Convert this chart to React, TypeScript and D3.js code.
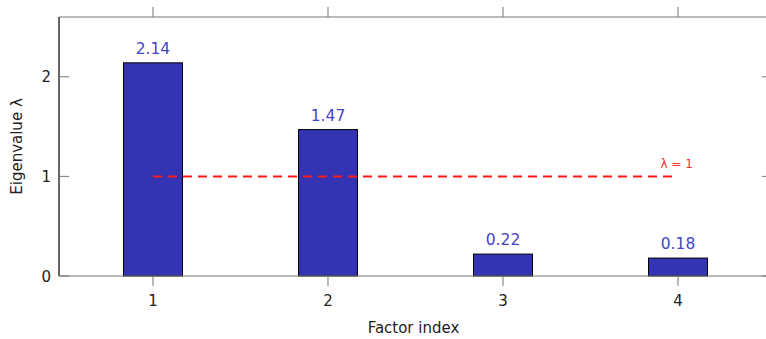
import React from 'react';
import * as d3 from 'd3';

const factors = [1, 2, 3, 4];
const eigenvalues = [2.14, 1.47, 0.22, 0.18];
const yTicks = [0, 1, 2];
const threshold = 1;
const thresholdSpan = [1, 3.97];

const W = 766;
const H = 339;
const left = 59, top = 17, bottom = 276, right = 772;

const x = d3.scaleLinear().domain([0.463, 4.537]).range([left, right]);
const y = d3.scaleLinear().domain([0, 2.6]).range([bottom, top]);
const barW = x(1.337) - x(1);
const font = "'DejaVu Sans', sans-serif";
const axisGray = '#777';

export default function App() {
  return (
    <svg width={W} height={H} style={{ position: 'absolute', left: 0, top: 0 }} fontFamily={font}>
      <rect x={0} y={0} width={W} height={H} fill="#fff" />
      {/* bars */}
      {eigenvalues.map((v, i) => (
        <g key={i}>
          <rect x={x(factors[i]) - barW / 2} y={y(v)} width={barW} height={y(0) - y(v)}
            fill="#3333b3" stroke="#000" strokeWidth={1} />
          <text x={x(factors[i])} y={y(v) - 9} textAnchor="middle" fontSize={15.5} fill="#4444c4">
            {v.toFixed(2)}
          </text>
        </g>
      ))}
      {/* threshold line */}
      <line x1={x(thresholdSpan[0])} x2={x(thresholdSpan[1])} y1={y(threshold)} y2={y(threshold)}
        stroke="#ff1a1a" strokeWidth={2} strokeDasharray="9,6" />
      <text x={x(thresholdSpan[1]) + 4} y={y(threshold) - 8} textAnchor="middle" fontSize={12} fill="#ff2a2a">
        λ = 1
      </text>
      {/* axis box */}
      <line x1={left} x2={right} y1={top} y2={top} stroke={axisGray} strokeWidth={1.2} />
      <line x1={left} x2={right} y1={bottom} y2={bottom} stroke={axisGray} strokeWidth={1.2} />
      <line x1={left} x2={left} y1={top} y2={bottom} stroke="#000" strokeWidth={1.2} />
      <line x1={right} x2={right} y1={top} y2={bottom} stroke="#000" strokeWidth={1.2} />
      {/* x ticks */}
      {factors.map(f => (
        <g key={f}>
          <line x1={x(f)} x2={x(f)} y1={bottom} y2={bottom + 10} stroke={axisGray} />
          <line x1={x(f)} x2={x(f)} y1={top - 10} y2={top} stroke={axisGray} />
          <text x={x(f)} y={bottom + 30} textAnchor="middle" fontSize={15} fill="#222">{f}</text>
        </g>
      ))}
      {/* y ticks */}
      {yTicks.map(t => (
        <g key={t}>
          <line x1={left} x2={left + 10} y1={y(t)} y2={y(t)} stroke={axisGray} />
          <line x1={right - 10} x2={right} y1={y(t)} y2={y(t)} stroke={axisGray} />
          <text x={left - 8} y={y(t) + 5.5} textAnchor="end" fontSize={15} fill="#222">{t}</text>
        </g>
      ))}
      <text x={(left + right) / 2 - 2} y={333} textAnchor="middle" fontSize={15} fill="#222">Factor index</text>
      <text transform={`translate(22, ${(top + bottom) / 2}) rotate(-90)`} textAnchor="middle" fontSize={15} fill="#222">
        Eigenvalue λ
      </text>
    </svg>
  );
}
